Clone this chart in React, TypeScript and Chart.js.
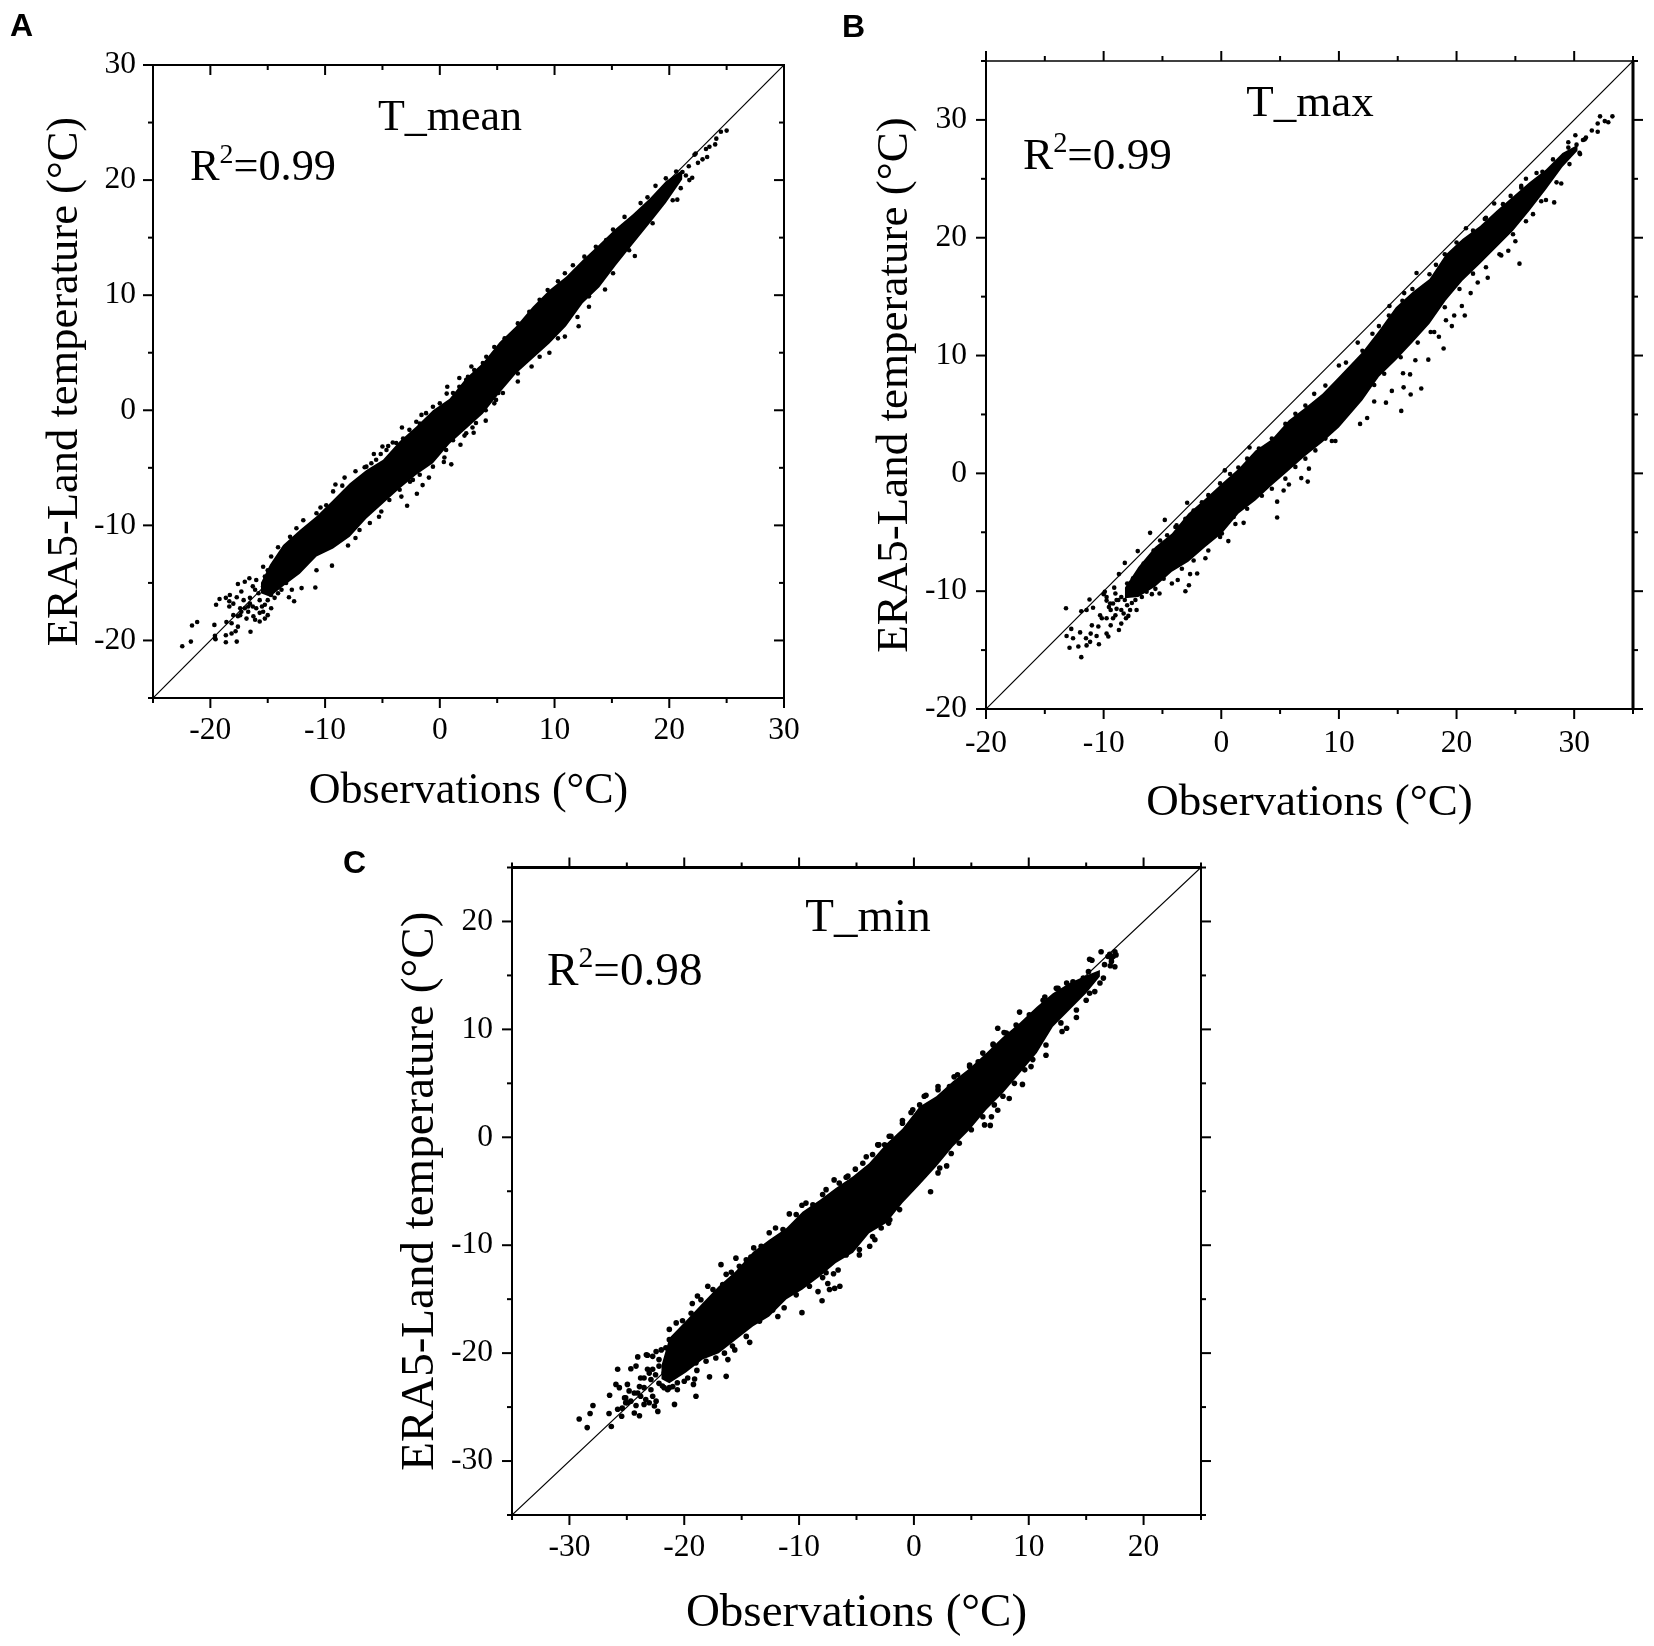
import React, { useEffect, useRef } from "react";
import { Chart, registerables } from "chart.js";

Chart.register(...registerables);

// ---------- Panel A: T_mean ----------
const bandObsA = [-15.6,-14.8,-13.66,-12.2,-10.75,-9.3,-7.85,-6.4,-4.95,-3.5,-2.05,-0.6,0.85,2.3,3.75,5.2,6.65,8.1,9.55,11,12.45,13.9,15.35,16.8,18.3,19.7,21.15];
const bandUpperA = [-15,-13.4,-11.7,-10.4,-9.2,-7.8,-6.35,-5.2,-4.3,-2.7,-1.4,0,1.0,2.8,4.1,5.9,7.3,9,10.45,11.6,13.05,14.4,15.8,17,18.4,19.9,20.9];
const bandLowerA = [-15.9,-16.2,-15.3,-14.2,-12.7,-12,-11,-9.4,-8.1,-6.8,-5.6,-4.6,-2.9,-1.6,-0.3,1.5,3.2,4.5,5.8,7.3,9.3,10.7,12.6,14.4,16.25,18,20.1];
const pointsA = [
[-22.45,-20.5],[-21.7,-20.1],[-21.6,-18.7],[-21.15,-18.4],[-19.65,-18.65],[-19.6,-19.6],[-19.55,-19.9],
[-19.5,-16.9],[-19.2,-16.4],[-18.65,-16.3],[-18.3,-16.05],[-18.35,-16.6],[-18.35,-17.05],[-17.6,-15.1],[-17,-14.9],[-16.6,-14.6],
[-17.3,-15.75],[-17.7,-16.25],[-18,-16.8],[-17.1,-16.5],[-16.55,-16.3],[-16.3,-17.05],[-17.4,-17.2],[-16.7,-17.05],[-18,-17.8],[-17.4,-17.8],
[-16.85,-18.1],[-16.1,-18.2],[-15.7,-18.35],[-15.25,-18.1],[-15,-17.8],[-14.7,-17.2],[-15.5,-17.05],[-18.6,-18.4],[-18.15,-18.5],[-17.6,-18.8],
[-17.8,-19.2],[-18.15,-19.4],[-18.65,-19.55],[-19.6,-19.8],[-18.65,-20.15],[-17.7,-20.1],[-16.5,-19.25],[-12.7,-16.6],[-10.85,-15.4],[-12.05,-15.45],
[-13.15,-16.25],[-9.4,-13.5],[-10.75,-13.9],[-8,-11.75],[-7.35,-11.1],[-5.3,-9.25],[-2.85,-8.3],[-2,-7.25],[-3.35,-7.5],[-1.5,-6.5],[-0.95,-5.85],
[-2.35,-6.05],[1,-4.7],[0.35,-4.5],[0.4,-4.1],[1.8,-3],[2.95,-1.95],[2.15,-2.2],[2.85,-1.5],[4,-0.9],[4.75,0.6],
[0.65,2.05],[0.6,1.45],[2.45,2.9],[-1.6,-0.4],[-3.3,-1.5],[-2.05,-1],[-5,-3.15],[-4.5,-3.1],[-4.1,-2.8],[-5.75,-3.8],[-5.15,-3.8],[-6.55,-4.95],
[-7.35,-5.3],[-8.3,-5.85],[-9.1,-6.45],[-8.5,-6.55],[-9.3,-7.05],[-9.9,-8.25],[-10.4,-8.45],[-10.75,-8.95],[-11.9,-9.55],[-12.5,-10.25],[-13.05,-11],
[-14.1,-11.9],[-14.7,-12.7],[-15.4,-13.6],[-16.3,-15.3],
[21.7,21.2],[22.2,22.2],[22.5,21.5],[22.9,21.8],[23.3,22],[23.2,22.7],[23.5,22.9],[24,23.1],[24.1,23.6],[24.5,24.2],[25,24.3],[22,20.2],[20.7,18.3],
[17,13.4],[14.4,10.5],[13,9],[12.1,7.3],[10.9,6.4],[9.55,5],[6.8,2.5],[5.1,1.5],[10.9,11.9],[11.6,12.6],[13.6,14.2],[15.1,15.7],[16.1,16.8],[18.1,18.5],[18.8,19.5],[22.3,22.3],
];
const edgeA = [
[-16.1,-15.6],[-15.8,-15.9],[-15.4,-15.3],[-15,-15.6],[-14.7,-16.05],[-14.4,-16.3],[-14.1,-15.9],[-15.7,-16.5],[-15.25,-16.9],[-15,-16.5],[-16,-17.2],
[-16.55,-16.8],[-17,-17.2],[-17.3,-17.5],[-17.6,-17.9],[-16.7,-17.5],[-16.25,-17.9],[-15.7,-17.6],[-15.4,-17.5],[-13.8,-15.6],[-13.4,-15],[-12.9,-15.6],
[-13.65,-14.45],[-14.4,-14.2],[-15,-13.9],[-15.25,-14.45],[-16,-14.75],
[-6.4,-4.9],[-5.97,-4.6],[-5.55,-4.3],[-4.65,-3.45],[-3.8,-2.85],[-3.2,-2.45],[-2.65,-1.7],[-1.75,-1.15],[-1.2,-0.25],[-0.6,0.3],[0,0.6],[1.15,1.5],[1.7,2.05],[2.3,2.65],[3,3.5],[3.75,4.1],
[-7,-10.4],[-6.1,-9.8],[-5.1,-8.8],[-4.4,-7.8],[-3.5,-6.9],[-2.6,-6.2],[-1.75,-5.6],[-0.6,-4.9],[0.55,-3.45],[1.15,-2.6],[2.3,-2],[3.15,-1.1],[4,0],[4.9,0.9],
[1.7,2.8],[2.75,3.8],[4.05,4.65],[4.75,5.5],[5.65,6.25],[6.8,7.55],[7.8,8.55],[8.7,9.6],[9.4,10.45],[10.3,11.2],[12.6,13.35],[14.5,14.8],[17.5,18],[19.7,20.15],[20.6,20.75],
[5.5,1.5],[6.8,3.2],[8,3.8],[8.7,4.65],[10.3,6.25],[12,8.1],[13,9.9],[15.1,11.9],[16.5,13.9],[18.55,16.25],[20.3,18.25],[21,19.3],[21.75,20],[21.15,20.7],[21.45,20.4],
];

// ---------- Panel B: T_max ----------
const bandObsB = [-8.2,-7.05,-5.63,-4.2,-2.8,-1.36,0.05,1.47,2.9,4.3,5.74,7.16,8.6,10,12,13.4,14.84,16.26,17.7,19.1,20.5,22,23.4,24.8,26.2,27.6,29,30.3];
const bandUpperB = [-9.7,-7.95,-6.24,-5.1,-3.4,-2.15,-0.87,0.4,1.95,2.9,4.5,5.6,6.75,8.2,10.3,12.1,14.1,15.4,16.5,18.6,19.9,21,22.3,23.5,24.7,25.8,27.2,27.9];
const bandLowerB = [-10.6,-10.5,-9.63,-8.36,-7.5,-6.24,-5.1,-3.4,-2.3,-1,0.25,1.5,2.65,3.9,6.2,8.2,9.6,11.1,12.7,14.7,16.35,17.8,19.2,20.6,22.3,24.1,26,27.4];
const pointsB = [
[33.25,30.3],[32.2,30.3],[32.9,29.8],[32.6,29.9],[32,29.7],[32,29],[31.5,29.1],[31,28.5],[30.75,28.3],[30.1,28.7],[29.5,28.1],[30.5,27.1],[28.9,24.6],
[28.3,23],[27.6,23.2],[26.5,22],[27.3,25.6],[25.9,25],[25.5,24.4],[24.6,23.55],[23.2,22.9],[22.4,21.6],[20.8,20.8],[25.35,17.8],[25,19.7],[24.4,18.9],
[23.8,18.5],[22.65,16.6],[21.8,16.2],[21.2,15.3],[20.7,13.4],[20.45,14.2],[19.8,13.4],[19.6,12.5],[18.5,11.6],[19.1,13],[18.1,12],[17.6,9.65],[18.9,10.6],
[16.5,9.6],[16.05,8.4],[15.45,8.5],[16.6,17],[15.55,15.3],[14.3,14.2],[13.4,12.5],[11.6,11.1],[10,9.15],[17,15.65],[18.25,17.7],
[-13.2,-11.45],[-11.9,-11.7],[-11.45,-11.6],[-11.2,-10.7],[-10.9,-11.4],[-12.75,-13.2],[-13.15,-13.8],[-12.6,-14],[-12,-13.5],[-11.5,-14],[-11.1,-13.6],
[-11.15,-14.3],[-11.45,-14.6],[-12.9,-14.8],[-12.15,-14.7],[-11.9,-15.6],[-10.4,-14.5],[-10.6,-13.8],[-11,-12.9],[-10.45,-13],[-10.3,-12.05],[-9.6,-13.85],
[-9.75,-13.6],[-9.4,-12.9],[-8.7,-13.3],[-8.5,-12.75],[-9,-12.05],[-10,-10.25],[-9.75,-10.8],[-9.1,-9.7],[-9.55,-11.35],[-8.2,-7.6],[-8.7,-8.55],[-7.1,-6.6],
[-6.05,-5.05],[-4.8,-3.95],[-2.9,-2.5],[-3.8,-4.4],[0.3,0.25],[2.4,2.2],[-3.05,-10],[-2.75,-9.5],[-2.05,-8.5],[-2.65,-8.55],[-3.7,-9.05],[-4.2,-9.35],
[-1.35,-7.2],[0.6,-5.75],[1.2,-4.3],[1.9,-4.2],[4.75,-3.75],[4.75,-2.4],[5.3,-1.45],[5.75,-0.95],[6.8,-0.4],[7.35,-0.7],[7.45,0.4],[9.4,2.75],[9.7,2.75],
[-7.75,-11.6],[-7.9,-12.1],[-7.2,-11.6],[-5.25,-10.2],[-5.9,-10.25],[0.05,-5.1],
[15.3,5.3],[14,6],[13,6.1],[12.4,4.7],[11.8,4.2],[16.1,6.7],[17,7.2],[14.5,7],[15.5,7.3],[13,7.5],
];
const edgeB = [
[-8.75,-10.75],[-8.5,-10.5],[-8.2,-10.75],[-7.9,-10.2],[-7.6,-9.9],[-7.75,-9.35],[-8,-9.35],[-7.5,-8.9],[-7,-8.5],[-6.6,-7.65],[-9.2,-11.05],[-8.9,-11.5],[-8.5,-11.6],
[-8,-11.2],[-7.6,-11],[-7.3,-10.75],[-6.75,-10.5],[-6.35,-10.05],[-5.6,-9.8],[-8.3,-11.9],[-8.1,-12.3],[-9.2,-12.3],[-9.75,-12.3],[-10.15,-12.3],[-9.4,-11.6],[-9.45,-11.05],
[-8.9,-10.75],[-9,-10.2],[-9.75,-10.5],[-9.9,-10.05],
[-6.2,-7.4],[-5.75,-6.55],[-5.2,-5.7],[-4.6,-5.25],[-3.9,-4.55],[-3.05,-3.85],[-2.35,-3.15],[-1.65,-2.45],[-1.1,-1.85],[-0.1,-0.85],[0.75,-0.05],[1.45,0.5],[2.2,1.25],[3.2,2.1],
[4.3,2.95],[5.45,4.2],[6.3,5.05],[7.15,5.75],[7.9,6.75],[8.85,7.45],
[-4.9,-8.95],[-3.35,-8.1],[-2.35,-7.4],[-1.1,-6.55],[-0.1,-5.4],[1.05,-3.7],[2.2,-3],[3.45,-1.9],[4.3,-1.3],[5.45,-0.45],[6.3,0.55],[7.15,1.25],[8,1.95],[8.85,2.95],
[10.6,9.4],[12,10.4],[12.85,11.85],[14.25,13.4],[15.4,14.65],[16.25,15.65],[17.7,16.9],[19,18.6],[20,19.6],[21.4,20.6],[22.5,21.7],[23.95,22.85],[25.5,24.25],[26.8,25.5],[28.2,26.65],[29.5,27.65],[30.2,27.9],
[13.85,8.45],[15.25,9.85],[16.7,11.1],[17.8,12],[19,14.1],[20.25,15.65],[21.4,16.95],[22.5,17.5],[23.65,18.6],[24.8,20.3],[25.9,21.4],[27.2,23.1],[28.5,24.7],[29.6,26.25],[30.45,27.2],[30.9,28.35],
];

// ---------- Panel C: T_min ----------
const bandObsC = [-22,-21.3,-19.85,-18.4,-17,-15.5,-14,-12.6,-11.1,-9.7,-8.2,-6.8,-5.3,-3.9,-2.4,-1,0.5,1.95,3.4,4.85,6.3,7.75,9.2,10.7,12.1,13.55,15,16.2];
const bandUpperC = [-21.2,-18.6,-17,-15.35,-13.8,-12.4,-10.6,-9.5,-8.4,-6.9,-5.8,-4.7,-3.6,-2.4,-0.6,0.8,2.85,3.8,5.2,6.4,7.8,9.3,10.6,12.1,13.35,14.3,15,15.5];
const bandLowerC = [-22.4,-22.8,-21.8,-20.6,-20,-18.75,-17.5,-16.6,-15,-14.1,-12.9,-11.65,-10.7,-8.9,-7.95,-6.1,-4.4,-2.7,-0.85,0.7,2.55,4.1,5.9,7.8,10.25,11.8,13.35,14.9];
const pointsC = [
[16.3,17.2],[15.3,16.5],[15.5,16.4],[17.05,16.95],[17.5,17.2],[17.6,16.9],[17.2,16.6],[17.35,16.75],[16.9,16.75],[16.6,16],[17.1,15.9],[17.5,15.8],[17.2,16.3],
[16.5,14.75],[15.75,13.5],[15,12.7],[14.15,11.1],[13.3,10.1],[12.9,9.8],[11.5,7.6],[10.2,6.55],[9.45,4.9],[8.3,3.6],[7.3,2.5],[6.65,1.1],[6.15,1.15],[6.75,1.9],
[2.85,-2.65],[2.1,-3.3],[1.45,-5.05],[7.3,10.1],[7.85,9.7],[9.2,11.6],[11.4,13],[12.4,13.8],[13.3,14.3],[6,7.8],[6.9,8.65],[4.85,6.55],[3.5,5.6],[2.1,4.7],[1.05,3.9],
[-0.25,2.3],[-1,1.55],[0.5,3],[-3.1,-0.7],[-2,0.1],[15.2,15.35],
[-29.15,-26.1],[-28.45,-26.9],[-28.2,-25.6],[-27.95,-24.85],[-26.55,-25.6],[-26.35,-26.8],[-26.5,-23.9],[-25.8,-21.5],[-25.95,-22.9],[-25.65,-23.2],[-25.8,-25.2],
[-25.45,-25.85],[-25.2,-24.15],[-24.95,-24.6],[-24.65,-24.45],[-24.65,-21.45],[-24.05,-20.35],[-24.2,-21.2],[-23.2,-20.2],[-24.95,-22.9],[-24.8,-23.5],[-24.05,-23.7],
[-23.8,-22.3],[-23.05,-21.85],[-24.2,-24.85],[-24.35,-25.55],[-23.9,-25.8],[-23.5,-24.75],[-23.35,-24.3],[-22.6,-24.9],[-22.3,-25.4],[-22.75,-24],[-20.85,-24.75],
[-18.98,-24],[-19.2,-22.9],[-19.1,-22.4],[-17.8,-22.2],[-16.35,-22.15],[-18.9,-21.6],[-20.6,-23.4],[-21.9,-23.05],[-21.3,-23.2],[-14.3,-19],[-15.6,-19.7],[-16.2,-20.6],
[-11.85,-16.6],[-9.75,-16.25],[-8,-15.15],[-8.35,-14.3],[-6.45,-13.8],[-6.9,-14],[-7.35,-14.1],[-6.6,-12.3],[-7,-12.65],[-7.5,-13.55],[-7.95,-13],[-3.85,-10.1],
[-4.75,-10.9],[-3.4,-9.5],[-2.85,-8.4],[-2.2,-7.95],
[-16.8,-11.8],[-15.5,-11.2],[-17.95,-13.8],[-18.85,-14.7],[-19.3,-15.4],[-20.7,-17.2],[-21.3,-17.8],[-16.35,-12.7],[-15.9,-12.5],[-14.2,-11.1],[-13.95,-10.25],
[-12.6,-8.85],[-12.05,-8.4],[-10.85,-7.1],[-10.25,-7.15],[-9.75,-6.3],[-9.4,-6.1],[-7.65,-4.85],[-6.95,-3.95],[-5.9,-3.7],[-5.1,-2.95],[-4.15,-1.8],[-3.05,-0.7],[-23.3,-20.15],
];
const edgeC = [
[-22.75,-20.3],[-22.45,-19.85],[-22,-19.7],[-21.6,-19.5],[-21.3,-18.75],[-22.2,-20.6],[-22.75,-21.5],[-23.2,-21.5],[-23.5,-22.3],[-22.9,-22.45],[-22.5,-22],[-22.2,-22.8],
[-21.75,-23.2],[-21.45,-23.4],[-21,-23.1],[-20.6,-22.75],[-20,-22.6],[-19.7,-22.3],[-22.2,-21.2],[-21.75,-21.85],[-23.9,-23.1],[-24.35,-23.7],[-23.5,-23.2],[-22.9,-23.4],
[-25.1,-24.15],[-23.8,-24],[-23.05,-24.6],[-22.45,-24.45],[-25.1,-24.6],[-25.4,-25.1],
[-20.15,-17],[-19.4,-16.3],[-18.55,-15.05],[-17.5,-14.1],[-16.65,-13.65],[-15.2,-11.95],[-14.6,-11.35],[-13.3,-10.1],[-11.4,-8.55],[-9.95,-7.65],[-8.8,-6.25],[-7.95,-5.3],
[-6.5,-4.25],[-5.75,-3.6],[-4.45,-2.4],[-3.6,-1.6],[-2.55,-0.7],
[-18.98,-20.9],[-18.1,-20.75],[-17.25,-20.45],[-16.5,-20],[-15.8,-19.35],[-14.6,-18.45],[-13.45,-17.05],[-12.3,-16],[-11.3,-15.8],[-10.25,-14.6],[-9.1,-13.8],[-7.65,-12.55],
[-5.9,-10.9],[-4.75,-10.4],[-3.6,-9.2],[-2.1,-7.65],[-1.25,-6.7],
[-3.15,-0.7],[-2.15,0.1],[-1,1.3],[-0.1,2.55],[0.9,3.8],[2.1,4.4],[3.1,4.7],[3.8,5.8],[4.85,6.7],[5.6,7],[6.9,8.55],[8.05,9.65],[8.9,10.4],[10.05,11.35],[11.25,12.7],[12.55,13.8],[13.85,14.4],[14.75,14.75],
[2.25,-2.85],[3.25,-1.5],[3.95,-0.55],[5,0.7],[6,1.9],[7,3],[7.75,3.8],[8.75,5],[9.65,6.25],[10.35,7.2],[11.5,8.55],[12.8,10.6],[14.15,11.8],[15.3,13.35],[16.2,14.3],
];

const xTitle = "Observations (°C)";
const yTitle = "ERA5-Land temperature (°C)";
const SERIF = '"Liberation Serif"';
const SANS = '"Liberation Sans"';

const panels = [
  {
    id: "A", name: "T_mean", r2: "=0.99", min: -25, max: 30,
    bandObs: bandObsA, bandUpper: bandUpperA, bandLower: bandLowerA, points: [...pointsA, ...edgeA],
    box: { x: 0, y: 0, w: 830, h: 830 }, plot: { l: 153, r: 784, t: 65, b: 698 },
    dot: 2.3, titleFont: 44.5, titleLeft: 39, xTitleBottom: 818, xFont: 44,
    xPad: 6, yPad: 9, nameFont: 44, r2Font: 44.3,
    spine: { l: 2, r: 2, t: 2, b: 2 }, mirrorIn: true,
    nameAt: [450, 130], r2At: [190, 180], letterAt: [10, 36],
  },
  {
    id: "B", name: "T_max", r2: "=0.99", min: -20, max: 35,
    bandObs: bandObsB, bandUpper: bandUpperB, bandLower: bandLowerB, points: [...pointsB, ...edgeB],
    box: { x: 830, y: 0, w: 824, h: 830 }, plot: { l: 986, r: 1633, t: 61, b: 709 },
    dot: 2.3, titleFont: 45, titleLeft: 38, xTitleBottom: 830, xFont: 45,
    xPad: 8, yPad: 11, nameFont: 45, r2Font: 45.2,
    spine: { l: 2, r: 3, t: 1.5, b: 2 }, mirrorIn: false,
    nameAt: [1310, 116], r2At: [1023, 169], letterAt: [842, 37],
  },
  {
    id: "C", name: "T_min", r2: "=0.98", min: -35, max: 25,
    bandObs: bandObsC, bandUpper: bandUpperC, bandLower: bandLowerC, points: [...pointsC, ...edgeC],
    box: { x: 330, y: 830, w: 900, h: 816 }, plot: { l: 512, r: 1201, t: 867.5, b: 1515 },
    dot: 2.8, titleFont: 47, titleLeft: 62, xTitleBottom: 1642, xFont: 47,
    xPad: 6, yPad: 11, nameFont: 47, r2Font: 47.2,
    spine: { l: 2, r: 2, t: 3, b: 2 }, mirrorIn: false,
    nameAt: [868, 931], r2At: [547, 985], letterAt: [343, 873],
  },
];

type Panel = (typeof panels)[number];

const MAJOR = 10;
const MINOR = 5;

function framePlugin(p: Panel) {
  return {
    id: "frame" + p.id,
    afterDraw(chart: any) {
      const { ctx, chartArea: a, scales } = chart;
      const ox = p.box.x, oy = p.box.y;
      ctx.save();
      ctx.strokeStyle = "#000";
      ctx.lineCap = "butt";
      const line = (x1: number, y1: number, x2: number, y2: number, w: number) => {
        ctx.lineWidth = w;
        ctx.beginPath();
        ctx.moveTo(x1, y1);
        ctx.lineTo(x2, y2);
        ctx.stroke();
      };
      const s = p.spine;
      line(a.left, a.top - s.t / 2, a.left, a.bottom + s.b / 2, s.l);
      line(a.right, a.top - s.t / 2, a.right, a.bottom + s.b / 2, s.r);
      line(a.left, a.top, a.right, a.top, s.t);
      line(a.left, a.bottom, a.right, a.bottom, s.b);
      for (const t of scales.x.ticks) {
        const px = scales.x.getPixelForValue(t.value);
        const len = t.value % 10 === 0 ? MAJOR : MINOR;
        line(px, a.bottom, px, a.bottom + len, 2);
        line(px, a.top, px, p.mirrorIn ? a.top + len : a.top - len, 2);
      }
      for (const t of scales.y.ticks) {
        const py = scales.y.getPixelForValue(t.value);
        const len = t.value % 10 === 0 ? MAJOR : MINOR;
        line(a.left, py, a.left - len, py, 2);
        line(a.right, py, p.mirrorIn ? a.right - len : a.right + len, py, 2);
      }
      ctx.fillStyle = "#000";
      ctx.textBaseline = "alphabetic";
      ctx.textAlign = "center";
      ctx.font = `${p.nameFont}px ${SERIF}`;
      ctx.fillText(p.name, p.nameAt[0] - ox, p.nameAt[1] - oy);
      // R² with a true raised superscript, as in the figure
      ctx.textAlign = "left";
      let tx = p.r2At[0] - ox;
      const ty = p.r2At[1] - oy;
      ctx.font = `${p.r2Font}px ${SERIF}`;
      ctx.fillText("R", tx, ty);
      tx += ctx.measureText("R").width;
      ctx.font = `${p.r2Font * 0.63}px ${SERIF}`;
      ctx.fillText("2", tx, ty - p.r2Font * 0.38);
      tx += ctx.measureText("2").width;
      ctx.font = `${p.r2Font}px ${SERIF}`;
      ctx.fillText(p.r2, tx, ty);
      ctx.font = `bold 32px ${SANS}`;
      ctx.fillText(p.id, p.letterAt[0] - ox, p.letterAt[1] - oy);
      ctx.restore();
    },
  };
}

function buildChart(canvas: HTMLCanvasElement, p: Panel) {
  const pair = (i: number, ys: number[]) => ({ x: p.bandObs[i], y: ys[i] });
  const scaleCommon = {
    type: "linear" as const,
    min: p.min,
    max: p.max,
    grid: { display: false },
    border: { display: false },
  };
  const label = (v: any) => (Number(v) % 10 === 0 ? String(v) : "");
  return new Chart(canvas, {
    type: "scatter",
    data: {
      datasets: [
        {
          label: "band upper",
          data: p.bandObs.map((_, i) => pair(i, p.bandUpper)),
          showLine: true, pointRadius: 0, borderWidth: 0, borderColor: "#000",
          backgroundColor: "#000", fill: "+1",
        },
        {
          label: "band lower",
          data: p.bandObs.map((_, i) => pair(i, p.bandLower)),
          showLine: true, pointRadius: 0, borderWidth: 0, borderColor: "#000",
          backgroundColor: "#000", fill: false,
        },
        {
          label: "1:1",
          data: [{ x: p.min, y: p.min }, { x: p.max, y: p.max }],
          showLine: true, pointRadius: 0, borderWidth: 1.2, borderColor: "#000", fill: false,
        },
        {
          label: p.name,
          data: p.points.map(([x, y]) => ({ x, y })),
          showLine: false, pointRadius: p.dot, borderWidth: 0, backgroundColor: "#000",
        },
      ],
    } as any,
    options: {
      responsive: false,
      animation: false,
      devicePixelRatio: 1,
      events: [],
      layout: {
        padding: {
          left: p.titleLeft,
          top: p.plot.t - p.box.y,
          right: p.box.x + p.box.w - p.plot.r,
          bottom: p.box.y + p.box.h - p.xTitleBottom,
        },
      },
      plugins: { legend: { display: false }, tooltip: { enabled: false } },
      scales: {
        x: {
          ...scaleCommon,
          ticks: { stepSize: 5, autoSkip: false, maxRotation: 0, padding: p.xPad, color: "#000", font: { family: SERIF, size: 31.5 }, callback: label },
          title: { display: true, text: xTitle, color: "#000", padding: 0, font: { family: SERIF, size: p.xFont } },
          afterFit: (s: any) => { s.height = p.xTitleBottom - p.plot.b; },
        },
        y: {
          ...scaleCommon,
          ticks: { stepSize: 5, autoSkip: false, padding: p.yPad, color: "#000", font: { family: SERIF, size: 31.5 }, callback: label },
          title: { display: true, text: yTitle, color: "#000", padding: 0, font: { family: SERIF, size: p.titleFont } },
          afterFit: (s: any) => { s.width = p.plot.l - p.box.x - p.titleLeft; },
        },
      },
    } as any,
    plugins: [framePlugin(p)],
  });
}

function PanelChart({ p }: { p: Panel }) {
  const ref = useRef<HTMLCanvasElement>(null);
  useEffect(() => {
    const c = buildChart(ref.current!, p);
    return () => c.destroy();
  }, [p]);
  return (
    <canvas
      ref={ref}
      width={p.box.w}
      height={p.box.h}
      style={{ position: "absolute", left: p.box.x, top: p.box.y, width: p.box.w, height: p.box.h }}
    />
  );
}

export default function App() {
  return (
    <div style={{ position: "relative", width: 1654, height: 1646, background: "#fff" }}>
      <style>{`html,body{margin:0;padding:0;background:#fff}`}</style>
      {panels.map((p) => (
        <PanelChart key={p.id} p={p} />
      ))}
    </div>
  );
}
